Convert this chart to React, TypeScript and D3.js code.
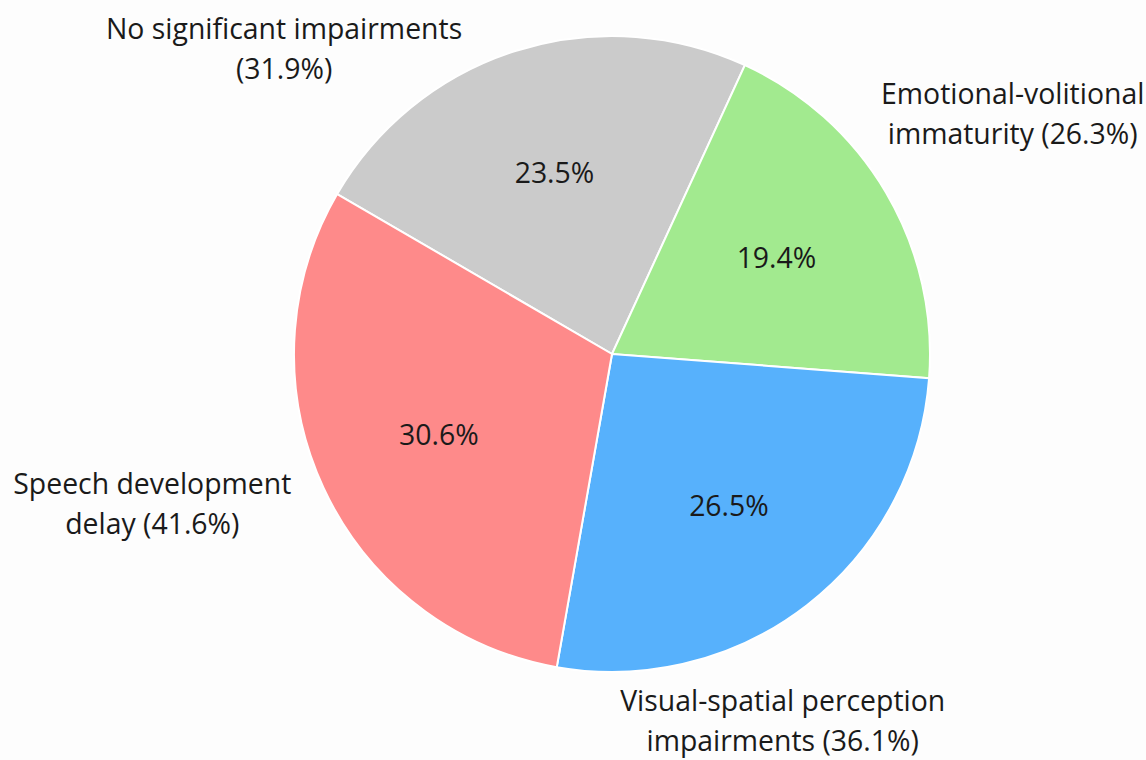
import React, { useEffect } from "react";
import * as d3 from "d3";

const categories = [
  "No significant impairments",
  "Emotional-volitional immaturity",
  "Visual-spatial perception impairments",
  "Speech development delay",
];
const values = [31.9, 26.3, 36.1, 41.6];
// percentages printed inside the slices (normalised shares, as shown)
const sharePct = [23.5, 19.4, 26.5, 30.6];
const colors = ["#cbcbcb", "#a2ea8f", "#57b1fc", "#fe8a8a"];
// outside label lines (text), per category
const labelLines = [
  ["No significant impairments", "(31.9%)"],
  ["Emotional-volitional", "immaturity (26.3%)"],
  ["Visual-spatial perception", "impairments (36.1%)"],
  ["Speech development", "delay (41.6%)"],
];
// outside label placement: angle (deg, clockwise from top) and distance in radii
const labelAngle = [313, 59, 155, 252];
const labelDist = [1.41, 1.47, 1.27, 1.52];

const W = 1146;
const H = 760;
const CX = 612;
const CY = 354;
const R = 318;
const START = (-59.8 * Math.PI) / 180;

export default function App() {
  useEffect(() => {
    document.body.style.margin = "0";
    document.body.style.background = "#fdfdfd";
  }, []);

  const pie = d3
    .pie<number>()
    .sort(null)
    .sortValues(null)
    .startAngle(START)
    .endAngle(START + 2 * Math.PI);
  const arcs = pie(values);
  const arc = d3.arc<d3.PieArcDatum<number>>().innerRadius(0).outerRadius(R);
  const inner = d3
    .arc<d3.PieArcDatum<number>>()
    .innerRadius(R * 0.6)
    .outerRadius(R * 0.6);
  const fmt = d3.format(".1f");
  const font = "'Open Sans', 'Noto Sans', sans-serif";
  const fs = 28.4;
  const lh = 40;

  return (
    <svg width={W} height={H} style={{ display: "block", background: "#fdfdfd" }}>
      <rect width={W} height={H} fill="#fdfdfd" />
      <g transform={`translate(${CX},${CY})`}>
        {arcs.map((a, i) => (
          <path
            key={categories[i]}
            d={arc(a) || ""}
            fill={colors[i]}
            stroke="#ffffff"
            strokeWidth={2}
          />
        ))}
        {arcs.map((a, i) => {
          const [x, y] = inner.centroid(a);
          return (
            <text
              key={"in" + i}
              x={x}
              y={y}
              textAnchor="middle"
              dominantBaseline="central"
              fontFamily={font}
              fontSize={fs}
              fill="#1a1a1a"
            >
              {fmt(sharePct[i])}%
            </text>
          );
        })}
        {labelLines.map((lines, i) => {
          const ang = (labelAngle[i] * Math.PI) / 180;
          const x = Math.sin(ang) * R * labelDist[i];
          const y = -Math.cos(ang) * R * labelDist[i];
          return (
            <text
              key={"out" + i}
              textAnchor="middle"
              fontFamily={font}
              fontSize={fs}
              fill="#1a1a1a"
            >
              {lines.map((t, j) => (
                <tspan
                  key={j}
                  x={x}
                  y={y + (j - (lines.length - 1) / 2) * lh}
                  dominantBaseline="central"
                >
                  {t}
                </tspan>
              ))}
            </text>
          );
        })}
      </g>
    </svg>
  );
}
